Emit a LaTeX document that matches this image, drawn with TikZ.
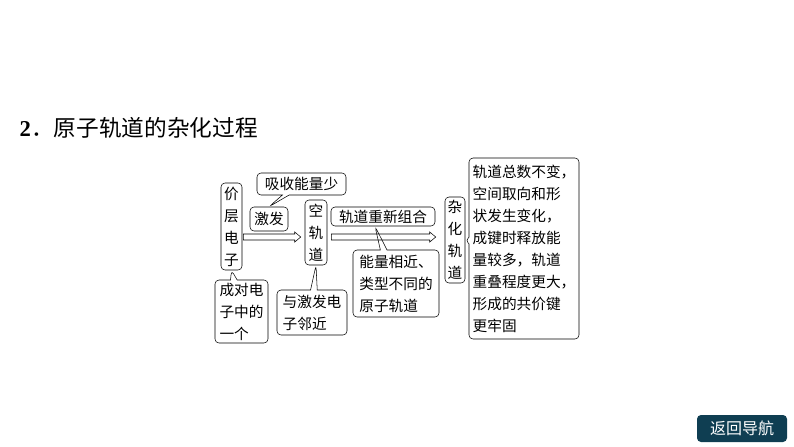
\documentclass[tikz,border=0pt]{standalone}
\usepackage{fontspec}
\setmainfont{Liberation Serif}
\newfontfamily\cjk{Noto Sans CJK SC}
\usetikzlibrary{calc,shapes.callouts}

\begin{document}
\begin{tikzpicture}
        [x=0.75pt, y=-0.75pt,
        box/.style={draw, rounded corners=3pt, inner sep=1pt, font=\cjk\fontsize{11}{16.5}\selectfont},
        callbox/.style={box, rectangle callout, callout pointer width=5pt},
        hollowarrow/.style={draw, to path={let \p1=(\tikztostart), \p2=(\tikztotarget) in
            (\x1,\y1+2.25pt) -- (\x2-4.5pt,\y1+2.25pt) -- (\x2-4.5pt,\y1+3.75pt) -- (\x2,\y1)
            -- (\x2-4.5pt,\y1-3.75pt) -- (\x2-4.5pt,\y1-2.25pt) -- (\x1,\y1-2.25pt) -- cycle}}]

        \useasboundingbox (0,0) rectangle (794,447);

        % Title
        \node[anchor=west, font=\fontsize{17}{20}\selectfont] (title) at (15,128)
            {\textbf{2}\cjk ．原子轨道的杂化过程};

        % Main chain
        \node[box, minimum width=15.75pt, minimum height=65.25pt, align=center] (jia) at (231.5,226.5) {价\\层\\电\\子};
        \node[box, minimum width=28.5pt, minimum height=18pt] (jifa) at (269,219) {激发};
        \node[box, minimum width=16.5pt, minimum height=48.75pt, align=center] (kong) at (316,232.5) {空\\轨\\道};
        \node[box, minimum width=78pt, minimum height=14.25pt] (chongzu) at (383,216.5) {轨道重新组合};
        \node[box, minimum width=15pt, minimum height=64.5pt, align=center] (zahua) at (455,240) {杂\\化\\轨\\道};

        % Callouts
        \node[callbox, minimum width=66.75pt, minimum height=16.5pt, callout absolute pointer={(jifa.north)}]
            (xishou) at (301.5,184) {吸收能量少};
        \node[callbox, minimum width=39.75pt, minimum height=47.25pt, align=left, callout absolute pointer={(jia.south)}]
            (chengdui) at (241.5,311.5) {成对电\\子中的\\一个};
        \node[callbox, minimum width=52.5pt, minimum height=33.75pt, align=left, callout absolute pointer={(kong.south)}]
            (linjin) at (312,312.5) {与激发电\\子邻近};
        \node[callbox, minimum width=64.5pt, minimum height=50.25pt, align=left, callout absolute pointer={([xshift=-6pt]chongzu.south)}]
            (nengliang) at (396,283.5) {能量相近、\\类型不同的\\原子轨道};
        \node[callbox, minimum width=82.5pt, minimum height=135.75pt, align=left, callout absolute pointer={(zahua.east)}]
            (tedian) at (524,248.5) {轨道总数不变，\\空间取向和形\\状发生变化，\\成键时释放能\\量较多，轨道\\重叠程度更大，\\形成的共价键\\更牢固};

        % Hollow arrows
        \coordinate (row) at (0,237);
        \coordinate (a1) at ([xshift=0.75pt]jia.east |- row);
        \coordinate (a2) at ([xshift=-3pt]kong.west |- row);
        \coordinate (b1) at ([xshift=3pt]kong.east |- row);
        \coordinate (b2) at ([xshift=-6.75pt]zahua.west |- row);
        \draw[hollowarrow] (a1) to (a2);
        \draw[hollowarrow] (b1) to (b2);

        % Navigation button
        \node[fill={rgb,255:red,15;green,62;blue,82}, rounded corners=3pt, text=white,
            minimum width=67.5pt, minimum height=20.25pt, font=\cjk\fontsize{12}{14}\selectfont]
            (back) at (742,428.5) {返回导航};

    \end{tikzpicture}
\end{document}
